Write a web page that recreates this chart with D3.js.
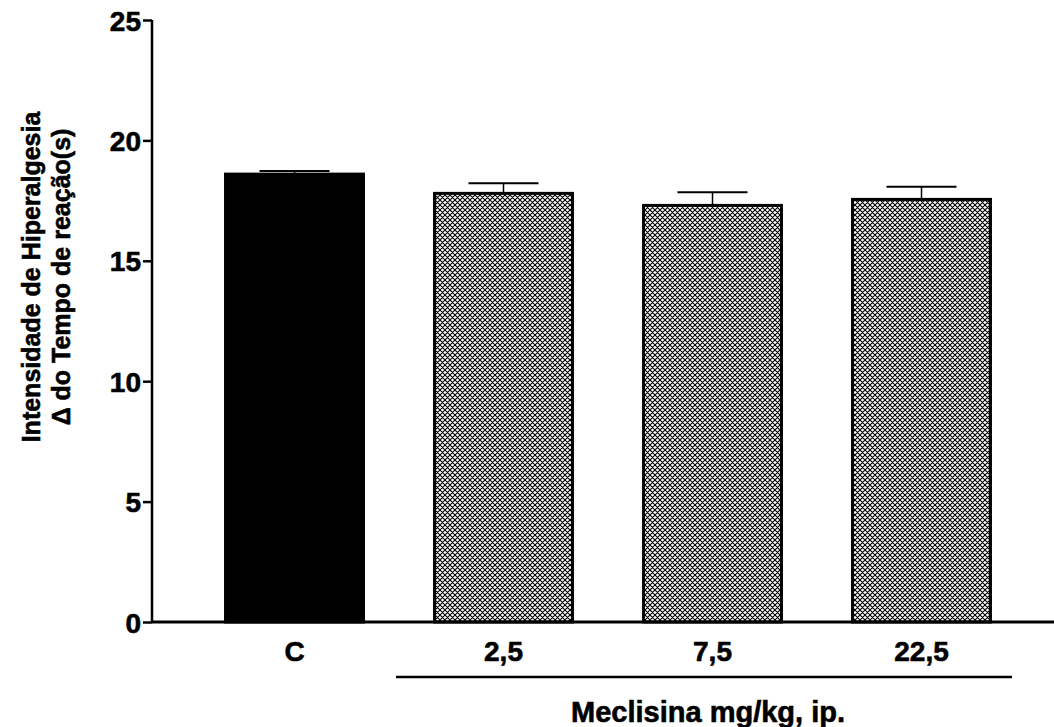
<!DOCTYPE html>
<html>
<head>
<meta charset="utf-8">
<script src="https://cdn.jsdelivr.net/npm/d3@7"></script>
<style>
  body { margin: 0; background: #fff; }
  text { font-family: Arial, "Liberation Sans", sans-serif; font-weight: bold; fill: #000; stroke: #000; stroke-width: 0.6px; }
</style>
</head>
<body>
<div id="chart"></div>
<script>
var width = 1054;
var height = 727;

// data
var groups = ["C", "2,5", "7,5", "22,5"];
var means = [18.6, 17.8, 17.3, 17.55];
var errors = [0.13, 0.42, 0.55, 0.53];
var yTicks = [0, 5, 10, 15, 20, 25];

var margin = { top: 20, right: 0, bottom: 105, left: 152 };

var svg = d3.select("#chart")
  .append("svg")
  .attr("width", width)
  .attr("height", height);

// crosshatch fill
var defs = svg.append("defs");
var pat = defs.append("pattern")
  .attr("id", "hatch")
  .attr("patternUnits", "userSpaceOnUse")
  .attr("width", 5)
  .attr("height", 5);
pat.append("rect").attr("width", 5).attr("height", 5).attr("fill", "#fff");
pat.append("path")
  .attr("d", "M0,0 L5,5 M5,0 L0,5 M-1,4 L1,6 M4,-1 L6,1 M-1,1 L1,-1 M4,6 L6,4")
  .attr("stroke", "#000")
  .attr("stroke-width", 1.1);

var x = d3.scaleBand()
  .domain(groups)
  .range([margin.left + 38, 1054 - 28])
  .paddingInner(0.34)
  .paddingOuter(0.17);

var y = d3.scaleLinear()
  .domain([0, 25])
  .range([height - margin.bottom, margin.top]);

// bars
svg.selectAll("rect.bar")
  .data(groups)
  .enter()
  .append("rect")
  .attr("class", "bar")
  .attr("x", function(d) { return x(d); })
  .attr("y", function(d, i) { return y(means[i]); })
  .attr("width", x.bandwidth())
  .attr("height", function(d, i) { return y(0) - y(means[i]); })
  .attr("fill", function(d, i) { return i == 0 ? "#000" : "url(#hatch)"; })
  .attr("stroke", "#000")
  .attr("stroke-width", 3);

// error bars (upper only)
var eb = svg.selectAll("g.err")
  .data(groups)
  .enter()
  .append("g")
  .attr("class", "err");
eb.append("line")
  .attr("x1", function(d) { return x(d) + x.bandwidth() / 2; })
  .attr("x2", function(d) { return x(d) + x.bandwidth() / 2; })
  .attr("y1", function(d, i) { return y(means[i]); })
  .attr("y2", function(d, i) { return y(means[i] + errors[i]); })
  .attr("stroke", "#000")
  .attr("stroke-width", 1.5);
eb.append("line")
  .attr("x1", function(d) { return x(d) + x.bandwidth() / 2 - 35; })
  .attr("x2", function(d) { return x(d) + x.bandwidth() / 2 + 35; })
  .attr("y1", function(d, i) { return y(means[i] + errors[i]); })
  .attr("y2", function(d, i) { return y(means[i] + errors[i]); })
  .attr("stroke", "#000")
  .attr("stroke-width", 2);

// y axis
var yAxis = d3.axisLeft(y)
  .tickValues(yTicks)
  .tickSize(9)
  .tickPadding(2)
  .tickFormat(d3.format("d"));
var gy = svg.append("g")
  .attr("transform", "translate(" + margin.left + ",0)")
  .call(yAxis);
gy.select(".domain").attr("stroke-width", 2.5).attr("d", "M0," + y(25) + "V" + y(0));
gy.selectAll(".tick line").attr("stroke-width", 2.5);
gy.selectAll(".tick text")
  .style("font-size", "28px")
  .style("font-family", "Arial, 'Liberation Sans', sans-serif")
  .style("font-weight", "bold")
  .attr("dy", "0.36em")
  .attr("fill", "#000");

// x axis baseline
svg.append("line")
  .attr("x1", margin.left)
  .attr("x2", width)
  .attr("y1", y(0))
  .attr("y2", y(0))
  .attr("stroke", "#000")
  .attr("stroke-width", 3);

// group labels
svg.selectAll("text.xlab")
  .data(groups)
  .enter()
  .append("text")
  .attr("class", "xlab")
  .attr("x", function(d) { return x(d) + x.bandwidth() / 2; })
  .attr("y", 661)
  .attr("text-anchor", "middle")
  .style("font-size", "28px")
  .text(function(d) { return d; });

// bracket line under the doses
svg.append("line")
  .attr("x1", 396)
  .attr("x2", 1012)
  .attr("y1", 677)
  .attr("y2", 677)
  .attr("stroke", "#000")
  .attr("stroke-width", 2.5);

svg.append("text")
  .attr("x", 708)
  .attr("y", 722)
  .attr("text-anchor", "middle")
  .style("font-size", "29px")
  .text("Meclisina mg/kg, ip.");

// y title
var yt = svg.append("text")
  .attr("transform", "translate(40,277) rotate(-90)")
  .attr("text-anchor", "middle")
  .style("font-size", "25px");
yt.append("tspan").attr("x", 0).attr("dy", 0).text("Intensidade de Hiperalgesia");
yt.append("tspan").attr("x", 0).attr("dy", 30).text("\u0394 do Tempo de reação(s)");
</script>
</body>
</html>
